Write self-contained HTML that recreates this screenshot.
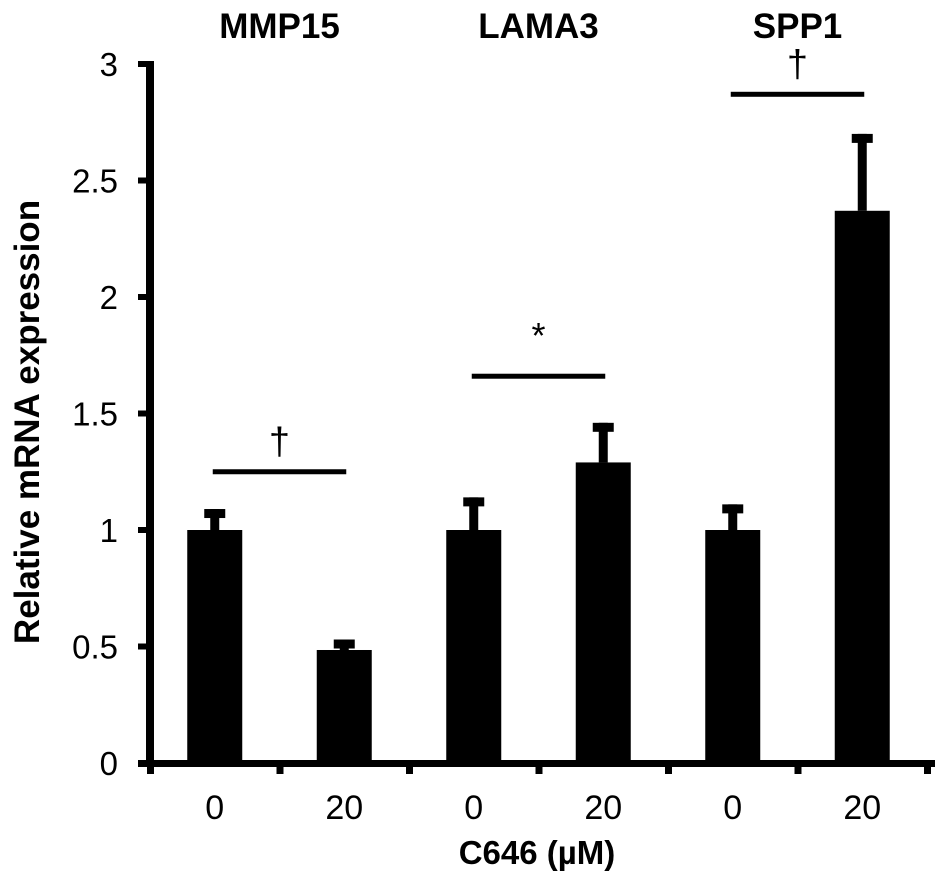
<!DOCTYPE html>
<html><head><meta charset="utf-8"><style>
html,body{margin:0;padding:0;background:#fff;}
svg{display:block;font-family:"Liberation Sans",Arial,sans-serif;}
</style></head><body>
<svg id="chart" width="945" height="880" viewBox="0 0 945 880" xmlns="http://www.w3.org/2000/svg"></svg>
<script>
const groups = ["MMP15", "LAMA3", "SPP1"];
const doses = ["0", "20", "0", "20", "0", "20"];
const values = [1.0, 0.485, 1.0, 1.29, 1.0, 2.37];
const errTops = [1.09, 0.53, 1.14, 1.46, 1.11, 2.70];
const yTicks = [0, 0.5, 1, 1.5, 2, 2.5, 3];
const yTickLabels = ["0", "0.5", "1", "1.5", "2", "2.5", "3"];
const sigMarks = ["†", "*", "†"];
const sigLevels = [1.25, 1.66, 2.87];

const svg = document.getElementById('chart');
const NS = 'http://www.w3.org/2000/svg';
const x0 = 150, step = 129.5, yZero = 763, yTop = 64, yMax = 3;
function y(v){ return yZero - (yZero - yTop) * v / yMax; }
function xc(i){ return x0 + step * (i + 0.5); }
function mk(tag, attrs){ const e = document.createElementNS(NS, tag); for (const k in attrs) e.setAttribute(k, attrs[k]); svg.appendChild(e); return e; }

values.forEach((v, i) => {
  const b = mk('rect', {x: xc(i) - 27.5, y: y(v), width: 55, height: yZero - y(v), fill: '#000'});
  
  
  const s = mk('rect', {x: xc(i) - 4.5, y: y(errTops[i]), width: 9, height: y(v) - y(errTops[i]), fill: '#000'});
  
  
  const c = mk('rect', {x: xc(i) - 10.5, y: y(errTops[i]), width: 21, height: 9, fill: '#000'});
  
  
});

const ya = mk('rect', {x: 146, y: yTop - 3, width: 8, height: yZero - yTop + 7, fill: '#000'});


const xa = mk('rect', {x: 138, y: yZero - 3, width: 797, height: 7, fill: '#000'});



yTicks.forEach((t, i) => {
  const tk = mk('rect', {x: 138, y: y(t) - 3, width: 12, height: 6, fill: '#000'});
  
  
  const l = mk('text', {x: 118, y: y(t) + 12, 'text-anchor': 'end', 'font-size': 33});
  l.textContent = yTickLabels[i];
  
  
});
for (let i = 0; i <= doses.length; i++) {
  const tk = mk('rect', {x: x0 + step * i - 3, y: yZero, width: 7, height: 11, fill: '#000'});
  
  
}
doses.forEach((d, i) => {
  const l = mk('text', {x: xc(i), y: 819, 'text-anchor': 'middle', 'font-size': 34});
  l.textContent = d;
  
  
});

groups.forEach((g, k) => {
  const cx = (xc(2*k) + xc(2*k+1)) / 2;
  const t = mk('text', {x: cx, y: 38, 'text-anchor': 'middle', 'font-size': 35, 'font-weight': 'bold'});
  t.textContent = g;
  
  
  const ln = mk('rect', {x: xc(2*k) - 2, y: y(sigLevels[k]) - 2.5, width: xc(2*k+1) - xc(2*k) + 4, height: 5, fill: '#000'});
  
  
  const star = sigMarks[k] === '*';
  const m = mk('text', {x: cx, y: y(sigLevels[k]) - (star ? 28 : 18), 'text-anchor': 'middle', 'font-size': star ? 36 : 38});
  m.textContent = sigMarks[k];
  
  
});

const xt = mk('text', {x: 537, y: 864, 'text-anchor': 'middle', 'font-size': 33, 'font-weight': 'bold'});
xt.textContent = 'C646 (µM)';


const yt = mk('text', {x: 0, y: 0, 'text-anchor': 'middle', 'font-size': 35, 'font-weight': 'bold', transform: 'translate(39,422) rotate(-90)'});
yt.textContent = 'Relative mRNA expression';


</script>
</body></html>
